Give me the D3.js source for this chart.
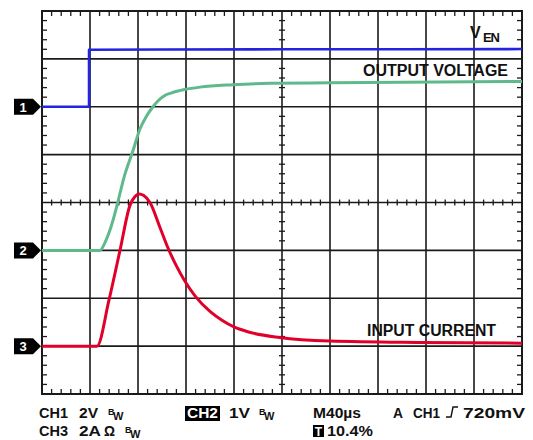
<!DOCTYPE html>
<html><head><meta charset="utf-8">
<script src="https://cdn.jsdelivr.net/npm/d3@7"></script>
<style>html,body{margin:0;padding:0;background:#fff;}svg{display:block;font-family:"Liberation Sans",Arial,sans-serif;}</style>
</head><body><svg id="c" width="533" height="440"></svg>
<script>
// time in µs (40 µs/div, 10 div)
const timeDomain = [0, 400];
const divisions = [0, 8];
// Channel settings: marker position (div from bottom) and scale (units/div)
const channels = [
  {id: "1", pos: 6, perDiv: 2, color: "#2424e0"},
  {id: "2", pos: 3, perDiv: 1, color: "#5fb98d"},
  {id: "3", pos: 1, perDiv: 2, color: "#e0002a"}
];
// CH1: V_EN (V)
const venT = [0, 39.2, 39.2, 100, 200, 300, 400];
const venV = [0, 0, 2.38, 2.39, 2.40, 2.40, 2.41];
// CH2: output voltage (V)
const voutT = [0, 48.3, 53.3, 59.2, 63.3, 68.3, 75.8, 81.7, 87, 92.5, 97, 102, 108, 119, 131.7, 159, 190, 240, 300, 400];
const voutV = [0, 0, 0.21, 0.63, 1.02, 1.52, 2.08, 2.54, 2.8, 3.0, 3.13, 3.23, 3.29, 3.36, 3.41, 3.46, 3.49, 3.50, 3.51, 3.53];
// CH3: input current (A)
const iinT = [0, 45.8, 55.8, 65, 73.3, 77.5, 81, 84.5, 90, 98, 105, 112, 119, 127.5, 140, 150, 160, 173, 198, 240, 315, 400];
const iinA = [0, 0, 1.92, 4.0, 5.88, 6.25, 6.36, 6.30, 6.0, 5.0, 4.1, 3.35, 2.72, 2.1, 1.45, 1.08, 0.80, 0.58, 0.36, 0.21, 0.15, 0.125];

const svg = d3.select("#c");
const L = 42, R = 522, T = 11, B = 394;
const x = d3.scaleLinear().domain(timeDomain).range([L, R]);
const yDiv = d3.scaleLinear().domain(divisions).range([B, T]);

// grid
const g = svg.append("g");
const vx = d3.range(1, 10).map(i => x(i * 40));
const hy = d3.range(1, 8).map(i => yDiv(i));
g.selectAll("line.v").data(vx).join("line").attr("x1", d => d).attr("x2", d => d).attr("y1", T).attr("y2", B)
  .attr("stroke", "#1a1a1a").attr("stroke-width", 1.6);
g.selectAll("line.h").data(hy).join("line").attr("y1", d => d).attr("y2", d => d).attr("x1", L).attr("x2", R)
  .attr("stroke", "#1a1a1a").attr("stroke-width", 1.6);

// minor ticks
const minorX = d3.range(0, 51).filter(i => i % 5 !== 0).map(i => x(i * 8));
const minorY = d3.range(0, 41).filter(i => i % 5 !== 0).map(i => yDiv(i / 5));
const tk = svg.append("g").attr("stroke", "#1a1a1a").attr("stroke-width", 1.3);
minorX.forEach(px => {
  tk.append("line").attr("x1", px).attr("x2", px).attr("y1", T).attr("y2", T + 5);
  tk.append("line").attr("x1", px).attr("x2", px).attr("y1", B - 5).attr("y2", B);
  tk.append("line").attr("x1", px).attr("x2", px).attr("y1", yDiv(4) - 3).attr("y2", yDiv(4) + 3);
});
minorY.forEach(py => {
  tk.append("line").attr("y1", py).attr("y2", py).attr("x1", L).attr("x2", L + 5);
  tk.append("line").attr("y1", py).attr("y2", py).attr("x1", R - 5).attr("x2", R);
  tk.append("line").attr("y1", py).attr("y2", py).attr("x1", x(200) - 3).attr("x2", x(200) + 3);
});
svg.append("rect").attr("x", L).attr("y", T).attr("width", R - L).attr("height", B - T)
  .attr("fill", "none").attr("stroke", "#1a1a1a").attr("stroke-width", 2);

// traces
function yCh(ch, v) { return yDiv(ch.pos + v / ch.perDiv); }
const trace = (ts, vs, ch, curve, w) => {
  const pts = ts.map((t, i) => [t, vs[i]]);
  svg.append("path").datum(pts)
    .attr("d", d3.line().x(d => x(d[0])).y(d => yCh(ch, d[1])).curve(curve))
    .attr("fill", "none").attr("stroke", ch.color).attr("stroke-width", w).attr("stroke-linejoin", "round");
};
trace(venT, venV, channels[0], d3.curveLinear, 2.6);
trace(voutT, voutV, channels[1], d3.curveMonotoneX, 3);
trace(iinT, iinA, channels[2], d3.curveMonotoneX, 3);

// channel markers
channels.forEach(ch => {
  const cy = yDiv(ch.pos);
  svg.append("path").attr("d", `M14,${cy-8}L33,${cy-8}L41,${cy}L33,${cy+8}L14,${cy+8}Z`).attr("fill", "#000");
  svg.append("text").attr("x", 23).attr("y", cy + 5).attr("text-anchor", "middle").attr("fill", "#fff")
    .attr("font-weight", "bold").attr("font-size", 13).text(ch.id);
});

// trace labels
const lab = svg.append("g").attr("font-weight", "bold").attr("fill", "#111");
lab.append("text").attr("x", 470).attr("y", 38).attr("font-size", 16).attr("textLength", 11).text("V");
lab.append("text").attr("x", 483).attr("y", 42).attr("font-size", 13).attr("textLength", 17).text("EN");
lab.append("text").attr("x", 363).attr("y", 76).attr("font-size", 16).attr("textLength", 145).attr("lengthAdjust", "spacingAndGlyphs").text("OUTPUT VOLTAGE");
lab.append("text").attr("x", 367).attr("y", 336).attr("font-size", 16).attr("textLength", 129).attr("lengthAdjust", "spacingAndGlyphs").text("INPUT CURRENT");

// status line
const st = svg.append("g").attr("font-weight", "bold").attr("fill", "#111").attr("font-size", 14);
function txt(s, xp, yp, w) {
  const t = st.append("text").attr("x", xp).attr("y", yp).text(s);
  if (w) t.attr("textLength", w).attr("lengthAdjust", "spacingAndGlyphs");
  return t;
}
function bw(xp, yp) {
  st.append("text").attr("x", xp).attr("y", yp - 3).attr("font-size", 9).text("B");
  st.append("text").attr("x", xp + 5).attr("y", yp + 2).attr("font-size", 11).text("W");
}
const r1 = 418, r2 = 436;
txt("CH1", 39, r1, 29);
txt("2V", 79, r1, 19);
bw(108, r1);
txt("CH3", 39, r2, 29);
txt("2A", 79, r2, 22);
txt("Ω", 104, r2, 11);
bw(125, r2);
st.append("rect").attr("x", 185).attr("y", 406).attr("width", 35).attr("height", 15).attr("fill", "#000");
txt("CH2", 187, r1, 31).attr("fill", "#fff");
txt("1V", 229, r1, 21);
bw(259, r1);
txt("M40µs", 313, r1, 48);
txt("A", 393, r1, 10);
txt("CH1", 413, r1, 27);
st.append("path").attr("d", "M446,417L451,417L453,407L458,407").attr("fill", "none").attr("stroke", "#111").attr("stroke-width", 1.4);
txt("720mV", 463, r1, 62);
st.append("rect").attr("x", 313).attr("y", 425).attr("width", 11).attr("height", 12).attr("fill", "#000");
st.append("text").attr("x", 318.5).attr("y", 435.5).attr("text-anchor", "middle").attr("fill", "#fff").attr("font-size", 12).text("T");
txt("10.4%", 327, r2, 46);
</script></body></html>
